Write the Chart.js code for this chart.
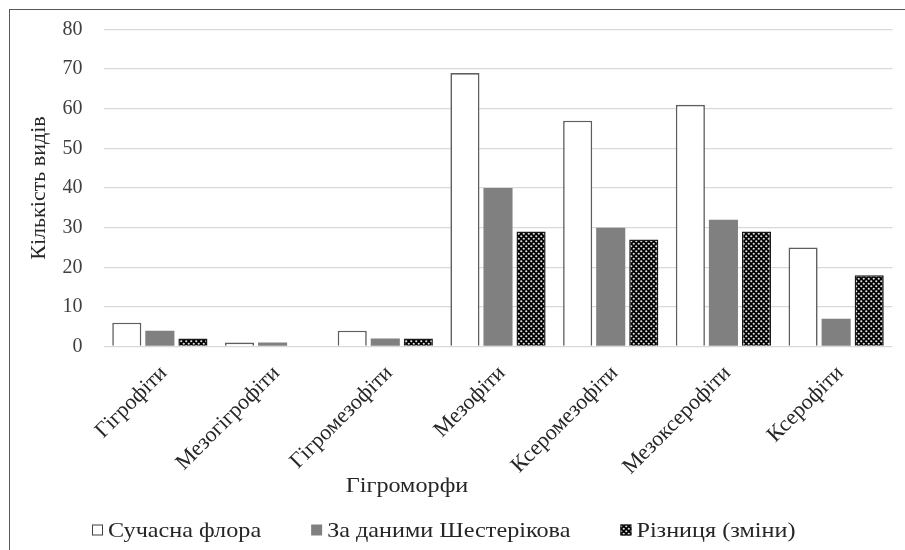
<!DOCTYPE html>
<html>
<head>
<meta charset="utf-8">
<script src="https://cdn.jsdelivr.net/npm/chart.js@4.4.1/dist/chart.umd.min.js"></script>
<style>
  html, body { margin: 0; padding: 0; background: #fff; }
  #wrap { position: relative; width: 905px; height: 550px; overflow: hidden; background: #fff; }
  #wrap canvas { position: absolute; left: 0; top: 0; }
  #frame { position: absolute; left: 9px; top: 9px; width: 1000px; height: 1000px;
           border: 1.5px solid #595959; pointer-events: none; }
</style>
</head>
<body>
<div id="wrap">
  <canvas id="chart" width="905" height="550"></canvas>
  <div id="frame"></div>
</div>
<script>
// Hygromorph groups and species counts
const categories = ['Гігрофіти', 'Мезогігрофіти', 'Гігромезофіти', 'Мезофіти', 'Ксеромезофіти', 'Мезоксерофіти', 'Ксерофіти'];
const modernFlora = [6, 1, 4, 69, 57, 61, 25];
const shesterikovData = [4, 1, 2, 40, 30, 32, 7];
const difference = [2, 0, 2, 29, 27, 29, 18];
const yTickValues = [0, 10, 20, 30, 40, 50, 60, 70, 80];
const seriesNames = ['Сучасна флора', 'За даними Шестерікова', 'Різниця (зміни)'];
const xAxisTitle = 'Гігроморфи';
const yAxisTitle = 'Кількість видів';

const FONT = '"Liberation Serif", "Times New Roman", serif';
const TEXT = '#262626';
const STRETCH = 1.1;

// black fill with a diagonal lattice of light dots
function dotPattern() {
  const t = document.createElement('canvas');
  t.width = 5; t.height = 5;
  const c = t.getContext('2d');
  c.fillStyle = '#000';
  c.fillRect(0, 0, 5, 5);
  c.fillStyle = '#e0e0e0';
  [[1.25, 1.25], [3.75, 3.75]].forEach(([px, py]) => {
    c.beginPath(); c.arc(px, py, 1.1, 0, Math.PI * 2); c.fill();
  });
  return c.createPattern(t, 'repeat');
}

const ctx0 = document.getElementById('chart').getContext('2d');
const hatch = dotPattern();

function drawStretched(ctx, text, x, y, align) {
  const w = ctx.measureText(text).width * STRETCH;
  let x0 = x;
  if (align === 'center') x0 = x - w / 2;
  ctx.save();
  ctx.translate(x0, y);
  ctx.scale(STRETCH, 1);
  ctx.textAlign = 'left';
  ctx.fillText(text, 0, 0);
  ctx.restore();
  return w;
}

// legend row and x-axis title
const extras = {
  id: 'extras',
  afterDraw(chart) {
    const ctx = chart.ctx;
    ctx.save();
    ctx.font = '22px ' + FONT;
    ctx.textBaseline = 'middle';
    ctx.fillStyle = TEXT;
    drawStretched(ctx, xAxisTitle, 407, 486, 'center');

    let x = 92;
    const y = 530;
    chart.data.datasets.forEach((ds) => {
      ctx.fillStyle = ds.backgroundColor;
      ctx.fillRect(x, y - 5.5, 11, 11);
      if (ds.borderWidth) {
        ctx.strokeStyle = ds.legendBorder;
        ctx.lineWidth = 1;
        ctx.strokeRect(x + 0.5, y - 5, 10, 10);
      }
      x += 16;
      ctx.fillStyle = TEXT;
      const w = drawStretched(ctx, ds.label, x, y + 1, 'left');
      x += w + 50;
    });
    ctx.restore();
  }
};

new Chart(ctx0, {
  type: 'bar',
  data: {
    labels: categories,
    datasets: [
      { label: seriesNames[0], data: modernFlora, backgroundColor: '#ffffff',
        borderColor: '#5e5e5e', legendBorder: '#404040', borderWidth: 1.6 },
      { label: seriesNames[1], data: shesterikovData, backgroundColor: '#808080',
        borderWidth: 0 },
      { label: seriesNames[2], data: difference, backgroundColor: hatch,
        borderColor: '#1a1a1a', legendBorder: '#1a1a1a', borderWidth: 1.5 }
    ]
  },
  options: {
    responsive: false,
    animation: false,
    devicePixelRatio: 1,
    datasets: { bar: { categoryPercentage: 0.88, barPercentage: 0.88 } },
    layout: { padding: { left: 0, right: 12.5, top: 29.5, bottom: 0 } },
    plugins: { legend: { display: false }, tooltip: { enabled: false } },
    scales: {
      x: {
        grid: { display: false, drawTicks: false },
        border: { display: false },
        ticks: {
          font: { family: FONT, size: 22 }, color: TEXT,
          minRotation: 45, maxRotation: 45, autoSkip: false,
          padding: 14, labelOffset: 4
        },
        afterFit(s) { s.height = 550 - 346.5; s.paddingLeft = 0; s.paddingRight = 0; }
      },
      y: {
        min: 0, max: 80,
        afterBuildTicks(s) { s.ticks = yTickValues.map(v => ({ value: v })); },
        grid: { color: '#d9d9d9', lineWidth: 1.3, drawTicks: false },
        border: { display: false },
        ticks: { font: { family: FONT, size: 20 }, color: '#404040', padding: 21 },
        title: { display: true, text: yAxisTitle, font: { family: FONT, size: 22 },
                 color: TEXT, padding: { top: 26, bottom: 0 } },
        afterFit(s) { s.width = 103.5; s.paddingTop = 0; s.paddingBottom = 0; }
      }
    }
  },
  plugins: [extras]
});
</script>
</body>
</html>
